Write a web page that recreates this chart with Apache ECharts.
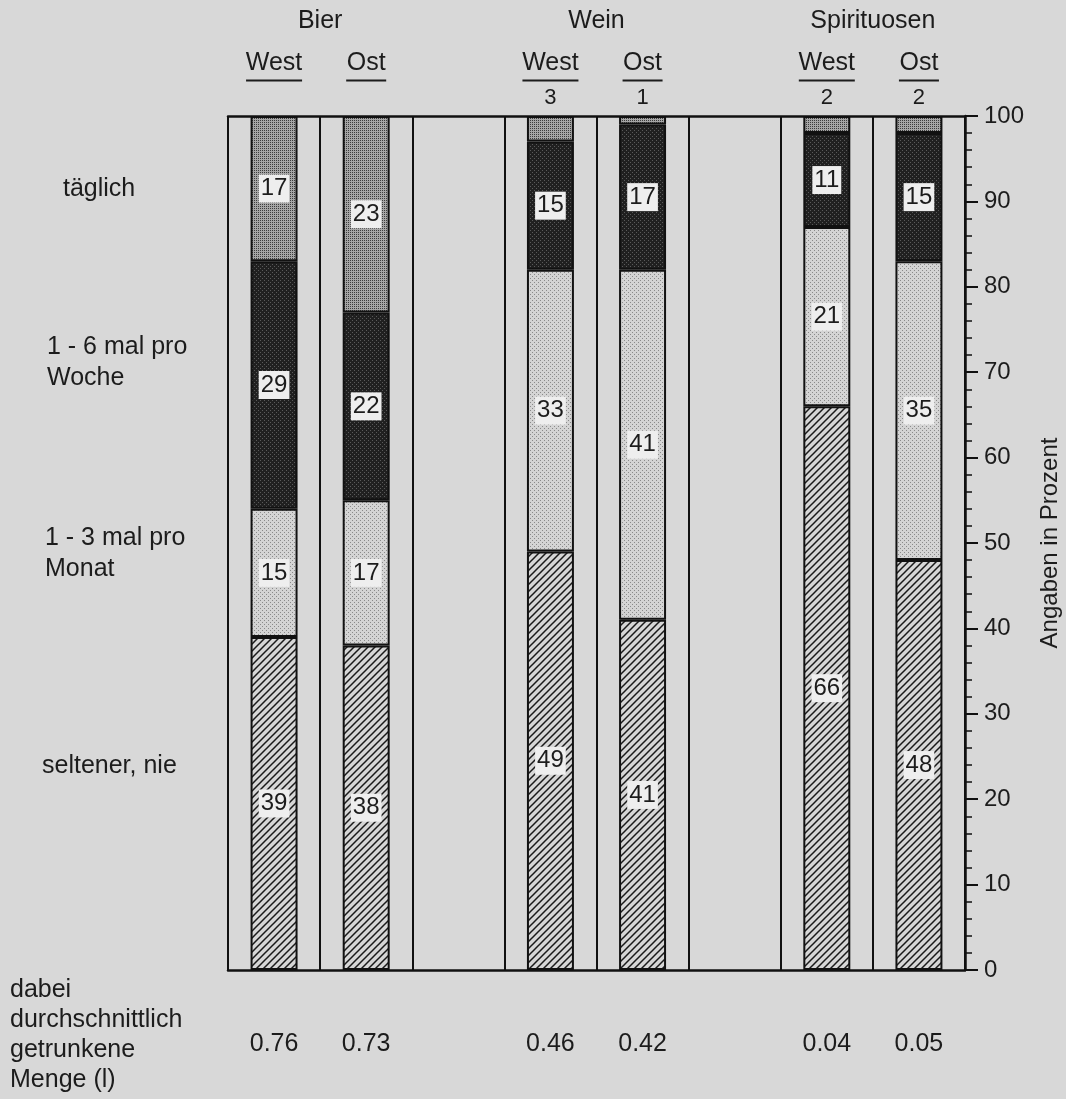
<!DOCTYPE html>
<html><head><meta charset="utf-8">
<script src="https://cdn.jsdelivr.net/npm/echarts@6/dist/echarts.min.js"></script>
<style>html,body{margin:0;padding:0;background:#d8d8d8}#c{width:1066px;height:1099px}</style>
</head><body><div id="c"></div>
<script>
// ---- data ----
const columns = ['Bier West','Bier Ost','','Wein West','Wein Ost','','Spirituosen West','Spirituosen Ost'];
const regionLabels = ['West','Ost','','West','Ost','','West','Ost'];
const groupNames = ['Bier','Wein','Spirituosen'];
const seltener = [39,38,null,49,41,null,66,48];   // seltener, nie
const monat    = [15,17,null,33,41,null,21,35];   // 1 - 3 mal pro Monat
const woche    = [29,22,null,15,17,null,11,15];   // 1 - 6 mal pro Woche
const taeglich = [17,23,null,3,1,null,2,2];       // täglich
const menge    = ['0.76','0.73','','0.46','0.42','','0.04','0.05'];
const yMin = 0, yMax = 100, yStep = 10;

const FONT = '"Liberation Sans", Arial, Helvetica, sans-serif';
const INK = '#1c1c1c';

function pattern(kind){
  const c = document.createElement('canvas');
  const ctx = c.getContext('2d');
  if(kind === 'hatch'){
    const s = 7; c.width = s; c.height = s;
    ctx.fillStyle = '#d6d6d6'; ctx.fillRect(0,0,s,s);
    ctx.strokeStyle = '#1a1a1a'; ctx.lineWidth = 1.5;
    ctx.beginPath();
    ctx.moveTo(-1, s+1); ctx.lineTo(s+1, -1);
    ctx.moveTo(-2, 2); ctx.lineTo(2, -2);
    ctx.moveTo(s-2, s+2); ctx.lineTo(s+2, s-2);
    ctx.stroke();
  } else {
    const s = 4; c.width = s; c.height = s;
    let bg, dot;
    if(kind === 'dark'){ bg = '#202020'; dot = '#5a5a5a'; }
    else if(kind === 'medium'){ bg = '#a6a6a6'; dot = '#3c3c3c'; }
    else { bg = '#d4d4d4'; dot = '#8a8a8a'; }
    ctx.fillStyle = bg; ctx.fillRect(0,0,s,s);
    ctx.fillStyle = dot;
    ctx.fillRect(0,0,1,1); ctx.fillRect(2,2,1,1);
    if(kind === 'medium'){ ctx.fillRect(2,0,1,1); ctx.fillRect(0,2,1,1); }
  }
  return {image: c, repeat: 'repeat'};
}

const labelStyle = {
  show: true, position: 'inside', color: INK, fontFamily: FONT, fontSize: 24,
  backgroundColor: '#eeeeee', padding: [3,2,1,2]
};

function seriesData(arr){
  return arr.map(v => v == null ? '-' : {value: v, label: {show: v >= 5}});
}

function mkSeries(name, arr, kind){
  return {
    name, type: 'bar', stack: 'all', barWidth: '51%',
    data: seriesData(arr),
    itemStyle: {color: pattern(kind), borderColor: '#111', borderWidth: 2},
    label: labelStyle,
    emphasis: {disabled: true}
  };
}

// group centres along a 0..N value axis (matches category bands)
const groupCentre = {};
groupNames.forEach(g => {
  const idx = columns.map((c,i)=>c.startsWith(g+' ')?i:-1).filter(i=>i>=0);
  groupCentre[(idx[0] + idx[idx.length-1] + 1)/2] = g;
});

const chart = echarts.init(document.getElementById('c'), null, {renderer:'canvas'});
chart.setOption({
  backgroundColor: '#d8d8d8',
  animation: false,
  textStyle: {fontFamily: FONT},
  grid: {left: 228, right: 101, top: 116, bottom: 129, containLabel: false, outerBoundsMode: 'none'},
  xAxis: [
    { // bottom: amounts
      type: 'category', data: columns, position: 'bottom',
      axisLine: {show: true, onZero: false, lineStyle: {color: '#111', width: 2.5}},
      axisTick: {show: false},
      splitLine: {show: true, lineStyle: {color: '#111', width: 2}},
      axisLabel: {interval: 0, margin: 62, fontSize: 25, color: INK, fontFamily: FONT,
        formatter: (v, i) => menge[i]}
    },
    { // top: West / Ost + small täglich values
      type: 'category', data: columns, position: 'top',
      axisLine: {show: true, onZero: false, lineStyle: {color: '#111', width: 2.5}},
      axisTick: {show: false},
      axisLabel: {interval: 0, margin: 3, color: INK, fontFamily: FONT,
        formatter: (v, i) => {
          const r = regionLabels[i];
          if(!r) return '';
          const small = (taeglich[i] != null && taeglich[i] < 5) ? String(taeglich[i]) : ' ';
          return '{r|' + r + '}\n{u' + (r === 'West' ? 'W' : 'O') + '| }\n{n|' + small + '}';
        },
        rich: {
          r: {fontSize: 25, lineHeight: 30, color: INK, fontFamily: FONT, align: 'center'},
          uW: {width: 56, height: 2, lineHeight: 5, fontSize: 2, backgroundColor: INK, align: 'center'},
          uO: {width: 40, height: 2, lineHeight: 5, fontSize: 2, backgroundColor: INK, align: 'center'},
          n: {fontSize: 22, lineHeight: 30, color: INK, fontFamily: FONT, align: 'center'}
        }
      }
    },
    { // group titles
      type: 'value', position: 'top', min: 0, max: columns.length, interval: 1, offset: 80,
      axisLine: {show: false, onZero: false}, axisTick: {show: false}, splitLine: {show: false},
      axisLabel: {margin: 2, fontSize: 25, color: INK, fontFamily: FONT,
        formatter: v => groupCentre[v] || ''}
    }
  ],
  yAxis: {
    type: 'value', position: 'right', min: yMin, max: yMax, interval: yStep,
    axisLine: {show: true, onZero: false, lineStyle: {color: '#111', width: 2.5}},
    axisTick: {show: true, length: 13, inside: false, lineStyle: {color: '#111', width: 2}},
    minorTick: {show: true, splitNumber: 5, length: 7, lineStyle: {color: '#111', width: 1.5}},
    splitLine: {show: false},
    axisLabel: {margin: 19, fontSize: 24, color: INK, fontFamily: FONT},
    name: 'Angaben in Prozent', nameLocation: 'middle', nameRotate: 90, nameGap: 73,
    nameTextStyle: {fontSize: 24, color: INK, fontFamily: FONT}
  },
  series: [
    mkSeries('seltener, nie', seltener, 'hatch'),
    mkSeries('1 - 3 mal pro Monat', monat, 'light'),
    mkSeries('1 - 6 mal pro Woche', woche, 'dark'),
    mkSeries('täglich', taeglich, 'medium')
  ],
  graphic: [
    {type:'text', left: 63, top: 177, style:{text:'täglich', font:'25px ' + FONT, fill: INK}},
    {type:'text', left: 47, top: 332, style:{text:'1 - 6 mal pro\nWoche', font:'25px ' + FONT, fill: INK, lineHeight: 31}},
    {type:'text', left: 45, top: 523, style:{text:'1 - 3 mal pro\nMonat', font:'25px ' + FONT, fill: INK, lineHeight: 31}},
    {type:'text', left: 42, top: 754, style:{text:'seltener, nie', font:'25px ' + FONT, fill: INK}},
    {type:'text', left: 10, top: 975, style:{text:'dabei\ndurchschnittlich\ngetrunkene\nMenge (l)', font:'25px ' + FONT, fill: INK, lineHeight: 30}}
  ]
});
</script></body></html>
